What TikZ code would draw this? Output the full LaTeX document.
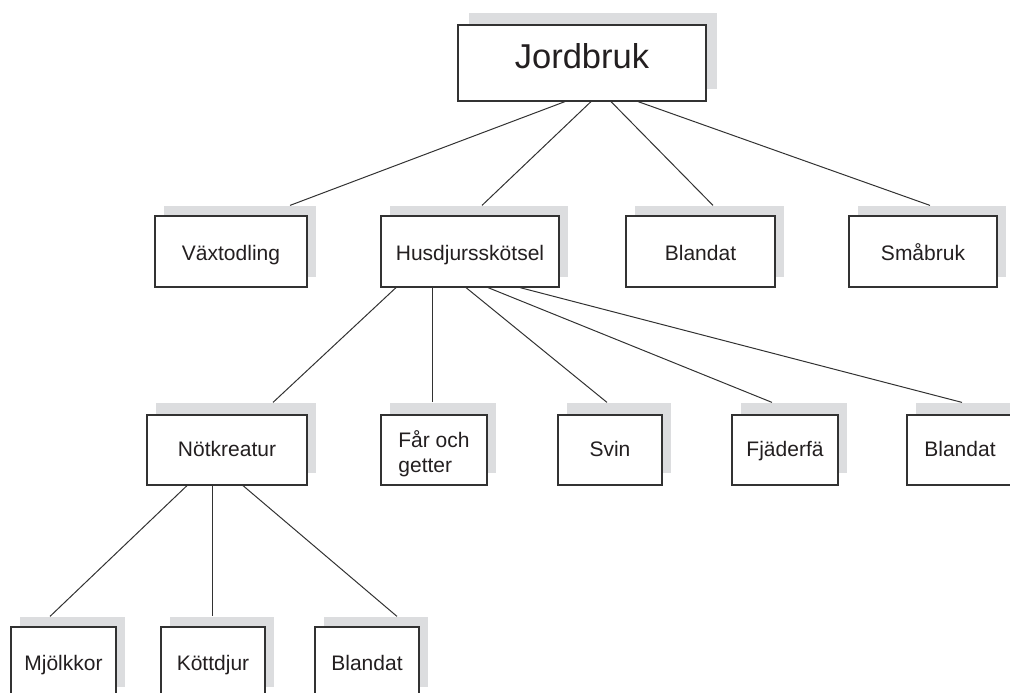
\documentclass[tikz,border=0pt]{standalone}
\usepackage{fontspec}
\setmainfont{Liberation Sans}
\usetikzlibrary{shadows}
\definecolor{shadowgray}{RGB}{220,221,223}
\definecolor{ink}{RGB}{35,31,32}
\definecolor{edge}{RGB}{50,50,50}
\tikzset{
  boxbase/.style={draw=edge, line width=1.2pt, fill=white, text=ink, inner sep=0pt,
    font=\fontsize{21}{25}\selectfont},
  shA/.style={general shadow={fill=shadowgray, shadow xshift=9pt, shadow yshift=10pt}},
  shB/.style={general shadow={fill=shadowgray, shadow xshift=9pt, shadow yshift=12pt}},
  rowtwo/.style={boxbase, shA, minimum height=71pt, text height=17pt, text depth=0pt},
  rowthree/.style={boxbase, shB, minimum height=70pt, text height=16pt, text depth=4pt},
  rowfour/.style={boxbase, shA, minimum height=70pt, text height=16pt, text depth=0pt},
  conn/.style={draw=edge, line width=1pt},
}
\begin{document}
\begin{tikzpicture}[x=1pt,y=-1pt]
\useasboundingbox (0,0) rectangle (1010,693);
\clip (0,0) rectangle (1010,693);
% top
\node[boxbase, general shadow={fill=shadowgray, shadow xshift=11pt, shadow yshift=12pt},
  minimum width=248pt, minimum height=76pt, text height=26pt, text depth=14pt,
  font=\fontsize{34.5}{40}\selectfont] (J) at (582,63) {Jordbruk};
% row 2
\node[rowtwo, minimum width=152pt] (V) at (231,251.5) {Växtodling};
\node[rowtwo, minimum width=178pt] (H) at (470,251.5) {Husdjursskötsel};
\node[rowtwo, minimum width=149pt] (B1) at (700.5,251.5) {Blandat};
\node[rowtwo, minimum width=148pt] (S) at (923,251.5) {Småbruk};
% row 3
\node[rowthree, minimum width=160pt] (N) at (227,450) {Nötkreatur};
\node[boxbase, shB, minimum width=106pt, minimum height=70pt, align=left,
  text height=44pt, text depth=0pt] (F) at (434,450) {Får och\\getter};
\node[rowthree, minimum width=104pt] (Sv) at (610,450) {Svin};
\node[rowthree, minimum width=106pt] (Fj) at (785,450) {Fjäderfä};
\node[rowthree, minimum width=106pt] (B2) at (960,450) {Blandat};
% row 4
\node[rowfour, minimum width=105pt] (M) at (63.5,662) {Mjölkkor};
\node[rowfour, minimum width=104pt] (K) at (213,662) {Köttdjur};
\node[rowfour, minimum width=104pt] (B3) at (367,662) {Blandat};
% connectors level 1
\draw[conn] ([xshift=-17pt]J.south) -- ([xshift=59pt,yshift=10pt]V.north);
\draw[conn] ([xshift=9pt]J.south) -- ([xshift=12pt,yshift=10pt]H.north);
\draw[conn] ([xshift=29pt]J.south) -- ([xshift=12.5pt,yshift=10pt]B1.north);
\draw[conn] ([xshift=56pt]J.south) -- ([xshift=7pt,yshift=10pt]S.north);
% connectors level 2
\draw[conn] ([xshift=-74pt]H.south) -- ([xshift=46pt,yshift=12pt]N.north);
\draw[conn] ([xshift=-38pt]H.south) -- ([xshift=-2pt,yshift=12pt]F.north);
\draw[conn] ([xshift=-4pt]H.south) -- ([xshift=-3pt,yshift=12pt]Sv.north);
\draw[conn] ([xshift=18pt]H.south) -- ([xshift=-13pt,yshift=12pt]Fj.north);
\draw[conn] ([xshift=50pt]H.south) -- ([xshift=2pt,yshift=12pt]B2.north);
% connectors level 3
\draw[conn] ([xshift=-40pt]N.south) -- ([xshift=-13.5pt,yshift=10pt]M.north);
\draw[conn] ([xshift=-15pt]N.south) -- ([xshift=-1pt,yshift=10pt]K.north);
\draw[conn] ([xshift=16pt]N.south) -- ([xshift=30pt,yshift=10pt]B3.north);
\end{tikzpicture}
\end{document}
